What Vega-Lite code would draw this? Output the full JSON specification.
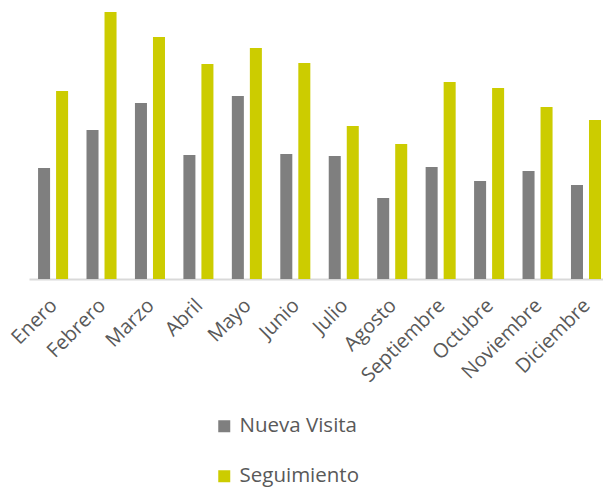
{
  "$schema": "https://vega.github.io/schema/vega-lite/v6.json",
  "autosize": "none",
  "width": 574,
  "height": 270,
  "padding": {"left": 29, "top": 9, "right": 0, "bottom": 211},
  "background": "white",
  "data": {"values": [
    {"mes": "Enero", "serie": "Nueva Visita", "valor": 111},
    {"mes": "Enero", "serie": "Seguimiento", "valor": 188},
    {"mes": "Febrero", "serie": "Nueva Visita", "valor": 149},
    {"mes": "Febrero", "serie": "Seguimiento", "valor": 267},
    {"mes": "Marzo", "serie": "Nueva Visita", "valor": 176},
    {"mes": "Marzo", "serie": "Seguimiento", "valor": 242},
    {"mes": "Abril", "serie": "Nueva Visita", "valor": 124},
    {"mes": "Abril", "serie": "Seguimiento", "valor": 215},
    {"mes": "Mayo", "serie": "Nueva Visita", "valor": 183},
    {"mes": "Mayo", "serie": "Seguimiento", "valor": 231},
    {"mes": "Junio", "serie": "Nueva Visita", "valor": 125},
    {"mes": "Junio", "serie": "Seguimiento", "valor": 216},
    {"mes": "Julio", "serie": "Nueva Visita", "valor": 123},
    {"mes": "Julio", "serie": "Seguimiento", "valor": 153},
    {"mes": "Agosto", "serie": "Nueva Visita", "valor": 81},
    {"mes": "Agosto", "serie": "Seguimiento", "valor": 135},
    {"mes": "Septiembre", "serie": "Nueva Visita", "valor": 112},
    {"mes": "Septiembre", "serie": "Seguimiento", "valor": 197},
    {"mes": "Octubre", "serie": "Nueva Visita", "valor": 98},
    {"mes": "Octubre", "serie": "Seguimiento", "valor": 191},
    {"mes": "Noviembre", "serie": "Nueva Visita", "valor": 108},
    {"mes": "Noviembre", "serie": "Seguimiento", "valor": 172},
    {"mes": "Diciembre", "serie": "Nueva Visita", "valor": 94},
    {"mes": "Diciembre", "serie": "Seguimiento", "valor": 159}
  ]},
  "mark": {"type": "bar"},
  "encoding": {
    "x": {
      "field": "mes", "type": "nominal", "sort": null,
      "scale": {"paddingInner": 0.38, "paddingOuter": 0.114, "align": 0.82},
      "axis": {
        "title": null, "labelAngle": -45, "labelFont": "Open Sans", "labelFontSize": 20,
        "labelColor": "#595959", "ticks": false, "domainColor": "#d9d9d9", "domainWidth": 2,
        "labelPadding": 16, "labelOffset": -6, "grid": false
      }
    },
    "xOffset": {"field": "serie", "type": "nominal", "scale": {"paddingInner": 0.333}},
    "y": {
      "field": "valor", "type": "quantitative",
      "scale": {"domain": [0, 270], "nice": false}, "axis": null
    },
    "color": {
      "field": "serie", "type": "nominal",
      "scale": {"domain": ["Nueva Visita", "Seguimiento"], "range": ["#7f7f7f", "#cccc00"]},
      "legend": {
        "title": null, "orient": "none", "legendX": 185, "legendY": 407,
        "direction": "vertical", "symbolType": "square", "symbolSize": 144,
        "symbolStrokeWidth": 0, "labelFont": "Open Sans", "labelFontSize": 20.5,
        "labelColor": "#595959", "rowPadding": 29, "labelOffset": 5
      }
    }
  },
  "config": {"view": {"stroke": null}}
}
